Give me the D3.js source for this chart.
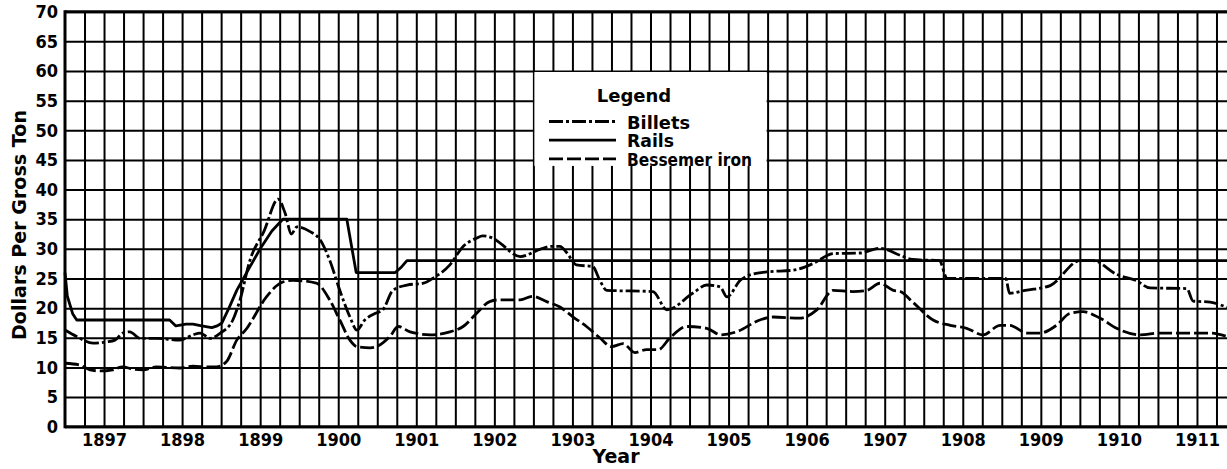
<!DOCTYPE html>
<html>
<head>
<meta charset="utf-8">
<script src="https://cdn.jsdelivr.net/npm/d3@7"></script>
<style>
body { margin: 0; background: #fff; }
text { font-family: "DejaVu Sans", sans-serif; font-weight: bold; fill: #000; }
.tick text { font-family: "Liberation Sans Narrow", "DejaVu Sans Condensed", sans-serif; font-size: 18px; font-weight: bold; }
</style>
</head>
<body>
<div id="chart"></div>
<script>
// annees et graduations
var years = [1897, 1898, 1899, 1900, 1901, 1902, 1903, 1904, 1905, 1906, 1907, 1908, 1909, 1910, 1911]
var yTicks = [0, 5, 10, 15, 20, 25, 30, 35, 40, 45, 50, 55, 60, 65, 70]
var legendNames = ["Billets", "Rails", "Bessemer iron"]

// prix en dollars par tonne, [annee decimale, valeur]
var rails = [[1897.0, 26], [1897.03, 22], [1897.1, 19], [1897.15, 18], [1898.34, 18], [1898.42, 17],
  [1898.55, 17.3], [1898.64, 17.3], [1898.75, 17], [1898.88, 16.7], [1898.95, 17], [1899.01, 17.5],
  [1899.1, 20], [1899.2, 23], [1899.37, 27], [1899.5, 30], [1899.65, 33], [1899.79, 35], [1900.61, 35],
  [1900.73, 26], [1901.23, 26], [1901.3, 26.8], [1901.38, 28], [1912, 28]]

var billets = [[1897.0, 16.3], [1897.15, 15.2], [1897.36, 14.1], [1897.53, 14.3], [1897.64, 14.6], [1897.74, 15.8],
  [1897.83, 16], [1897.96, 14.9], [1898.17, 14.9], [1898.47, 14.6], [1898.64, 15.5], [1898.73, 15.8],
  [1898.86, 14.9], [1898.99, 15.8], [1899.15, 18], [1899.24, 21.3], [1899.37, 28.1], [1899.55, 33],
  [1899.73, 38.4], [1899.82, 36], [1899.9, 32.5], [1899.97, 33.7], [1900.14, 32.9], [1900.27, 31.5],
  [1900.39, 28.1], [1900.52, 23], [1900.65, 18.5], [1900.74, 16.3], [1900.84, 18], [1900.97, 19.1],
  [1901.07, 19.7], [1901.2, 23], [1901.38, 23.9], [1901.59, 24.2], [1901.71, 25], [1901.93, 27.3],
  [1902.1, 30.4], [1902.27, 31.8], [1902.35, 32.2], [1902.48, 31.8], [1902.57, 31], [1902.83, 28.7],
  [1903.1, 30], [1903.21, 30.4], [1903.34, 30.4], [1903.43, 29.3], [1903.55, 27.3], [1903.76, 27],
  [1903.85, 24.7], [1903.94, 23], [1904.53, 22.8], [1904.71, 19.7], [1905.04, 22.5], [1905.22, 23.9],
  [1905.39, 23.6], [1905.48, 21.9], [1905.65, 24.7], [1905.77, 25.6], [1905.99, 26.1], [1906.33, 26.4],
  [1906.58, 27.5], [1906.84, 29.2], [1907.18, 29.3], [1907.44, 30.1], [1907.7, 28.9], [1907.85, 28.2],
  [1908.2, 28], [1908.3, 25], [1909.05, 25], [1909.1, 22.5], [1909.3, 23], [1909.62, 23.8], [1910.0, 28],
  [1910.17, 28], [1910.47, 25.7], [1910.73, 24.6], [1910.9, 23.4], [1911.37, 23.3], [1911.45, 21.2],
  [1911.67, 21], [1911.89, 20.1]]

var bessemer = [[1897.0, 10.7], [1897.19, 10.4], [1897.32, 9.6], [1897.45, 9.4], [1897.61, 9.6], [1897.74, 10.1],
  [1897.87, 9.7], [1898.0, 9.6], [1898.17, 10.1], [1898.47, 9.9], [1898.64, 10.2], [1898.82, 10.1],
  [1898.94, 10.1], [1899.07, 11], [1899.2, 14.6], [1899.33, 16.6], [1899.37, 17.4], [1899.58, 21.9],
  [1899.79, 24.4], [1899.92, 24.7], [1900.22, 24.2], [1900.39, 21.4], [1900.52, 18], [1900.65, 14.6],
  [1900.74, 13.5], [1900.91, 13.3], [1900.99, 13.5], [1901.16, 15.2], [1901.27, 16.9], [1901.42, 16],
  [1901.68, 15.5], [1901.93, 16], [1902.1, 16.9], [1902.27, 19.1], [1902.44, 21.1], [1902.57, 21.4],
  [1902.83, 21.4], [1902.99, 22], [1903.17, 21.1], [1903.34, 20.2], [1903.51, 18.5], [1903.68, 16.9],
  [1903.85, 15], [1904.0, 13.5], [1904.15, 14], [1904.3, 12.5], [1904.45, 13], [1904.6, 13], [1904.75, 15],
  [1904.96, 16.9], [1905.22, 16.6], [1905.4, 15.5], [1905.6, 16], [1905.9, 18], [1906.07, 18.5],
  [1906.41, 18.3], [1906.63, 19.7], [1906.84, 23], [1907.09, 22.8], [1907.27, 23], [1907.44, 24.2],
  [1907.61, 23], [1907.7, 22.8], [1907.86, 21], [1908.12, 18], [1908.34, 17.1], [1908.55, 16.6],
  [1908.76, 15.5], [1908.98, 17.1], [1909.1, 17.1], [1909.32, 15.8], [1909.49, 15.8], [1909.7, 17.1],
  [1909.87, 19.1], [1910.04, 19.4], [1910.26, 18.3], [1910.47, 16.6], [1910.77, 15.5], [1911.03, 15.8],
  [1911.67, 15.8], [1911.89, 15.2]]

var width = 1227
var height = 469

var svg = d3.select("#chart")
  .append("svg")
    .attr("width", width)
    .attr("height", height)
    .style("background", "#fff")

// echelles : la feuille continue un peu au-dela du bord droit
var x = d3.scaleLinear().domain([1897, 1912]).range([65, 1236])
var y = d3.scaleLinear().domain([0, 70]).range([426.7, 11.7])

// quadrillage vertical tous les trimestres
var quarters = d3.range(1, 60).map(function(k){ return 1897 + k / 4 })
svg.append("g")
  .attr("transform", "translate(0," + y(0) + ")")
  .call(d3.axisBottom(x).tickValues(quarters).tickSize(-(y(0) - y(70))).tickFormat(""))
  .call(function(g){ g.select(".domain").remove() })
  .selectAll("line")
    .attr("stroke", "#000")
    .attr("stroke-width", 2)

// quadrillage horizontal + graduations
svg.append("g")
  .attr("transform", "translate(" + x(1897) + ",0)")
  .call(d3.axisLeft(y).tickValues(yTicks).tickSize(-(width - x(1897))).tickPadding(7))
  .call(function(g){ g.select(".domain").remove() })
  .call(function(g){
    g.selectAll("line").attr("stroke", "#000").attr("stroke-width", 2)
  })

// annees
svg.append("g")
  .attr("transform", "translate(0," + y(0) + ")")
  .call(d3.axisBottom(x).tickValues(years.map(function(d){ return d + 0.5 })).tickSize(0).tickPadding(7)
    .tickFormat(function(d){ return Math.floor(d) }))
  .call(function(g){ g.select(".domain").remove() })

// bords epais
svg.append("line").attr("x1", x(1897)).attr("x2", width).attr("y1", y(0)).attr("y2", y(0))
  .attr("stroke", "#000").attr("stroke-width", 3)
svg.append("line").attr("x1", x(1897)).attr("x2", width).attr("y1", y(70)).attr("y2", y(70))
  .attr("stroke", "#000").attr("stroke-width", 3)
svg.append("line").attr("x1", x(1897)).attr("x2", x(1897)).attr("y1", y(70) - 1.5).attr("y2", y(0) + 1.5)
  .attr("stroke", "#000").attr("stroke-width", 3)

// cadre blanc de la legende
svg.append("rect")
  .attr("x", x(1903) + 1)
  .attr("y", y(60) + 1)
  .attr("width", x(1906) - x(1903) - 2)
  .attr("height", y(45) - y(60) + 5)
  .attr("fill", "#fff")

// courbes
var styles = {
  "Billets": "14,3,3,3",
  "Rails": null,
  "Bessemer iron": "14,4"
}
var series = [
  {name: "Billets", values: billets, curve: d3.curveMonotoneX},
  {name: "Rails", values: rails, curve: d3.curveLinear},
  {name: "Bessemer iron", values: bessemer, curve: d3.curveMonotoneX}
]

series.forEach(function(s){
  svg.append("path")
    .datum(s.values)
    .attr("fill", "none")
    .attr("stroke", "#000")
    .attr("stroke-width", 2.8)
    .attr("stroke-linejoin", "round")
    .attr("stroke-dasharray", styles[s.name])
    .attr("d", d3.line()
      .curve(s.curve)
      .x(function(d){ return x(d[0]) })
      .y(function(d){ return y(d[1]) }))
})

// legende
svg.append("text")
  .attr("x", 634)
  .attr("y", 102)
  .attr("text-anchor", "middle")
  .style("font-size", "18px")
  .text("Legend")

var legendWidths = [63, 47, 125]
legendNames.forEach(function(name, i){
  var ly = 121.5 + i * 18.7
  svg.append("line")
    .attr("x1", 549).attr("x2", 616)
    .attr("y1", ly).attr("y2", ly)
    .attr("stroke", "#000")
    .attr("stroke-width", 2.8)
    .attr("stroke-dasharray", styles[name])
  svg.append("text")
    .attr("x", 627)
    .attr("y", ly + 7)
    .attr("textLength", legendWidths[i])
    .attr("lengthAdjust", "spacingAndGlyphs")
    .style("font-size", "18px")
    .text(name)
})

// titres des axes
svg.append("text")
  .attr("x", 616)
  .attr("y", 463)
  .attr("text-anchor", "middle")
  .style("font-size", "19px")
  .text("Year")

svg.append("text")
  .attr("transform", "translate(26,225) rotate(-90)")
  .attr("text-anchor", "middle")
  .attr("textLength", 230)
  .attr("lengthAdjust", "spacingAndGlyphs")
  .style("font-size", "20px")
  .text("Dollars Per Gross Ton")
</script>
</body>
</html>
